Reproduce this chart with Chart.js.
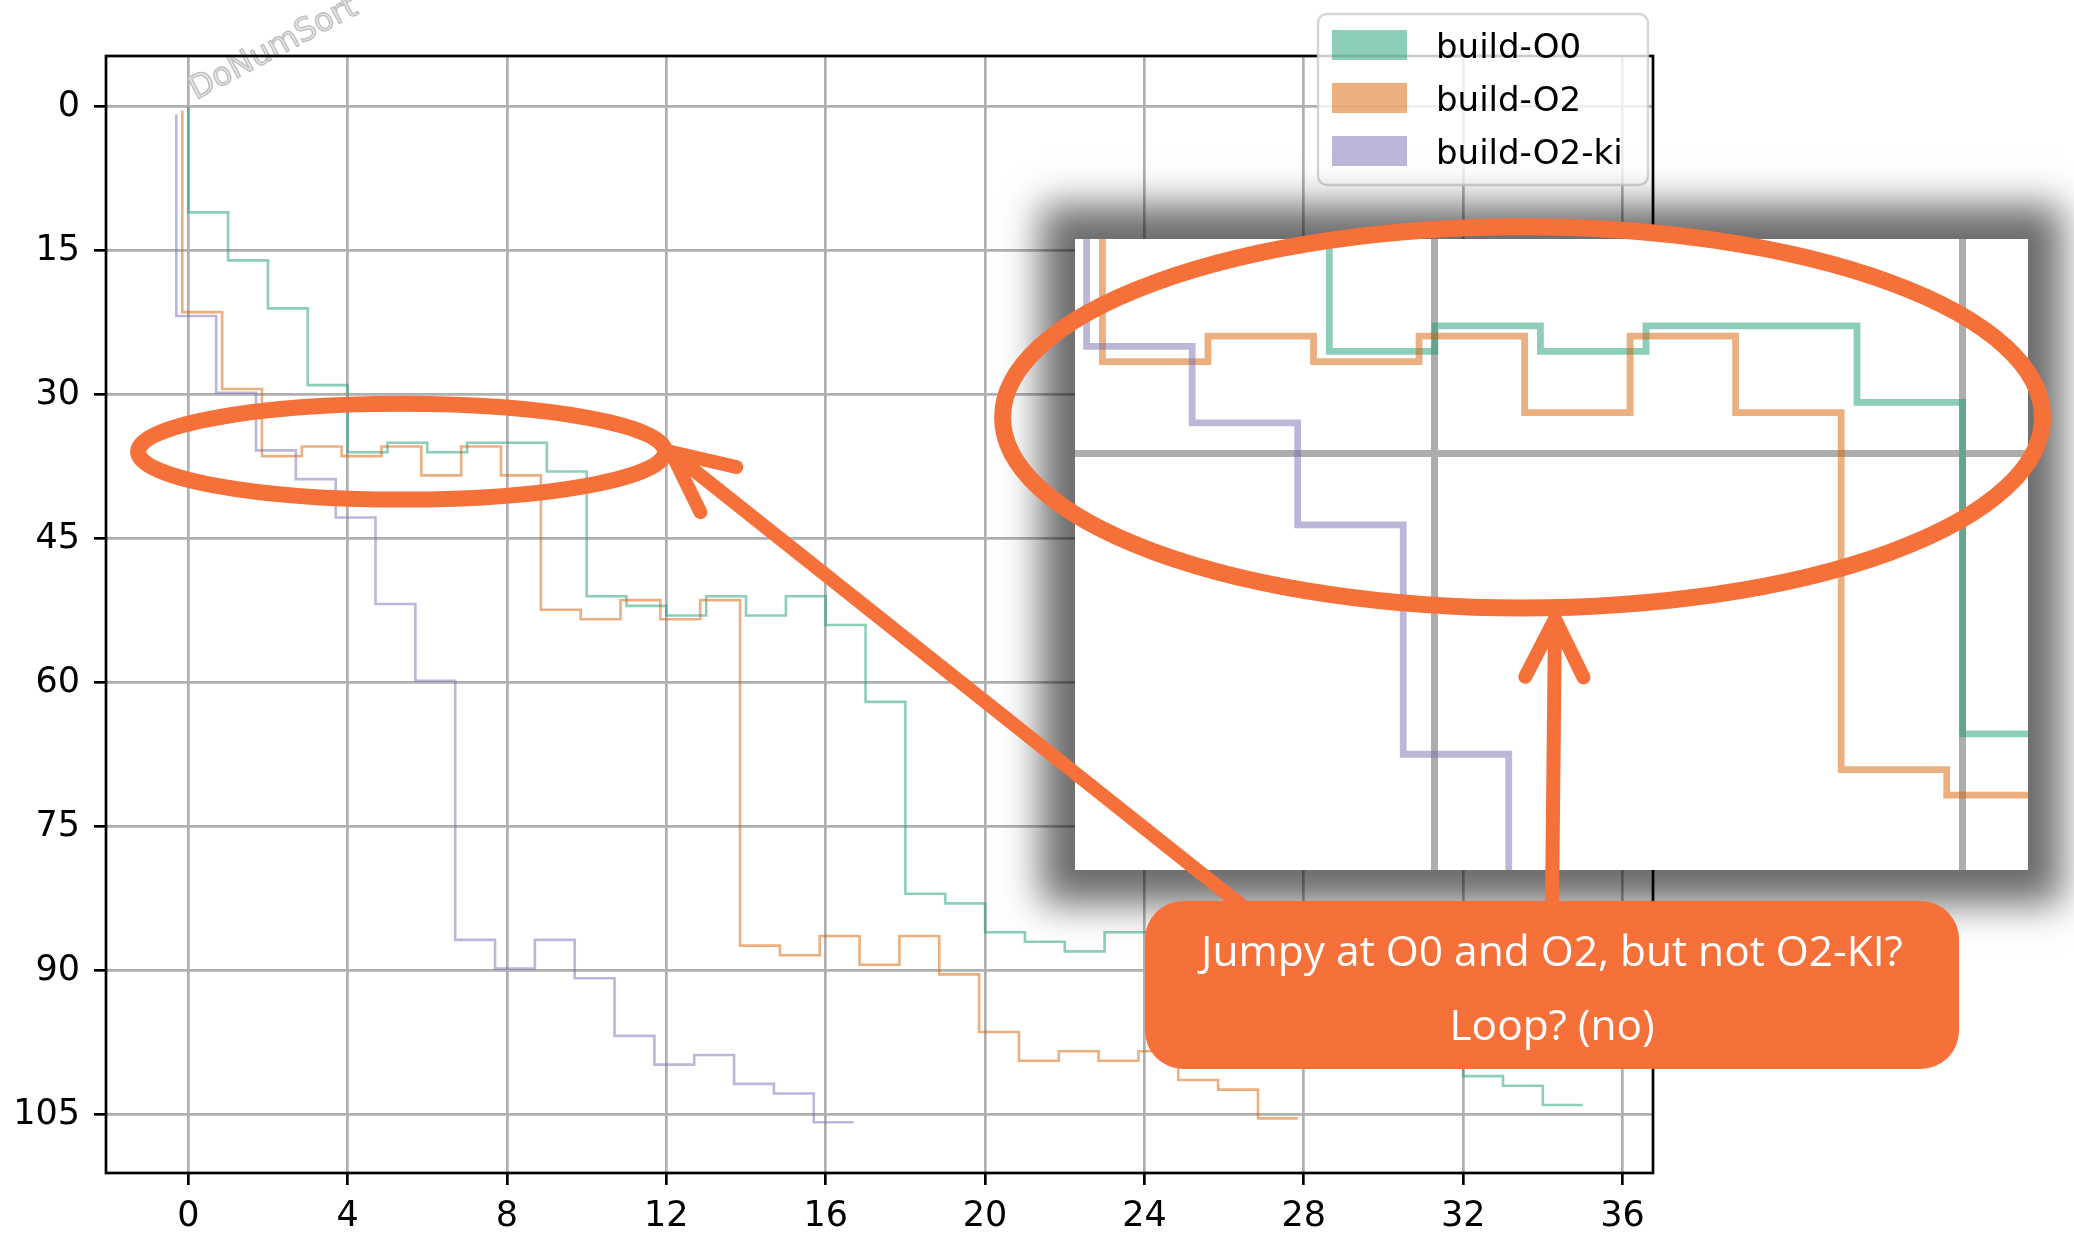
<!DOCTYPE html>
<html><head><meta charset="utf-8">
<script src="https://cdn.jsdelivr.net/npm/chart.js@4.4.1/dist/chart.umd.min.js"></script>
<style>
html,body{margin:0;padding:0;background:#fff;width:2074px;height:1239px;overflow:hidden;}
#main{position:absolute;left:0;top:0;}
#insetBox{position:absolute;left:1075px;top:239px;width:953px;height:631px;background:#fff;box-shadow:0 0 36px 34px rgba(0,0,0,0.58);}
#inset{position:absolute;left:0;top:0;}
#overlay{position:absolute;left:0;top:0;pointer-events:none;}
</style></head>
<body>
<canvas id="main" width="2074" height="1239"></canvas>
<div id="insetBox"><canvas id="inset" width="953" height="631"></canvas></div>
<canvas id="overlay" width="2074" height="1239"></canvas>
<script>
// ---------- data ----------
const seriesNames = ['build-O0', 'build-O2', 'build-O2-ki'];
const xTicks = [0, 4, 8, 12, 16, 20, 24, 28, 32, 36];
const yTicks = [0, 15, 30, 45, 60, 75, 90, 105];
const insetXTicks = [5, 10];
const insetYTicks = [40];

const o0X = [0,1,2,3,4,5,6,7,8,9,10,11,12,13,14,15,16,17,18,19,20,21,22,23,24,25,26,27,28,29,30,31,32,33,34,35];
const o0Y = [0,11,16,21,29,36,35,36,35,35,38,51,52,53,51,53,51,54,62,82,83,86,87,88,86,86,88,89,91,93,95,96,98,101,102,104];

const o2X = [-0.15,0.85,1.85,2.85,3.85,4.85,5.85,6.85,7.85,8.85,9.85,10.85,11.85,12.85,13.85,14.85,15.85,16.85,17.85,18.85,19.85,20.85,21.85,22.85,23.85,24.85,25.85,26.85,27.85];
const o2Y = [0.4,21.4,29.4,36.4,35.4,36.4,35.4,38.4,35.4,38.4,52.4,53.4,51.4,53.4,51.4,87.4,88.4,86.4,89.4,86.4,90.4,96.4,99.4,98.4,99.4,98.4,101.4,102.4,105.4];

const kiX = [-0.3,0.7,1.7,2.7,3.7,4.7,5.7,6.7,7.7,8.7,9.7,10.7,11.7,12.7,13.7,14.7,15.7,16.7];
const kiY = [0.8,21.8,29.8,35.8,38.8,42.8,51.8,59.8,86.8,89.8,86.8,90.8,96.8,99.8,98.8,101.8,102.8,105.8];

const calloutLines = ['Jumpy at O0 and O2, but not O2-KI?', 'Loop? (no)'];
const watermark = 'DoNumSort';

// ---------- styles ----------
const seriesColors = ['rgba(27,158,119,0.5)', 'rgba(217,95,2,0.5)', 'rgba(117,112,179,0.5)'];
const ACC = '#f6703a';
const TICK_FONT = {family: 'DejaVu Sans', size: 35};

function pts(xs, ys) { return xs.map((x, i) => ({x: x, y: ys[i]})); }
function makeDatasets(width) {
  const xs = [o0X, o2X, kiX], ys = [o0Y, o2Y, kiY];
  return seriesNames.map((name, i) => ({
    label: name,
    data: pts(xs[i], ys[i]),
    borderColor: seriesColors[i],
    backgroundColor: seriesColors[i],
    borderWidth: width,
    pointRadius: 0,
    stepped: 'after',
    fill: false,
    tension: 0,
    order: 2 - i
  }));
}

// ---------- main chart ----------
const mainDecor = {
  id: 'mainDecor',
  afterDatasetsDraw(chart) {
    const ctx = chart.ctx, a = chart.chartArea;
    ctx.save();
    // watermark
    ctx.translate(196, 100);
    ctx.rotate(-28 * Math.PI / 180);
    ctx.font = '32px "DejaVu Sans"';
    ctx.fillStyle = '#e6e6e6';
    ctx.fillText(watermark, 0, 0);
    ctx.lineWidth = 1.3;
    ctx.strokeStyle = '#bdbdbd';
    ctx.strokeText(watermark, 0, 0);
    ctx.restore();
    // spines
    ctx.save();
    ctx.strokeStyle = '#000';
    ctx.lineWidth = 2.7;
    ctx.strokeRect(a.left, a.top, a.right - a.left, a.bottom - a.top);
    ctx.restore();
  },
  afterDraw(chart) {
    const ctx = chart.ctx;
    // legend
    const bx = 1318, by = 14, bw = 330, bh = 171;
    ctx.save();
    ctx.beginPath();
    ctx.roundRect(bx, by, bw, bh, 9);
    ctx.fillStyle = 'rgba(255,255,255,0.8)';
    ctx.fill();
    ctx.lineWidth = 2.4;
    ctx.strokeStyle = 'rgba(204,204,204,0.8)';
    ctx.stroke();
    ctx.font = '34px "DejaVu Sans"';
    ctx.textBaseline = 'alphabetic';
    chart.data.datasets.forEach((ds, i) => {
      const cy = 45 + i * 53;
      ctx.fillStyle = ds.borderColor;
      ctx.fillRect(1332, cy - 15, 75, 30);
      ctx.fillStyle = '#000';
      ctx.fillText(ds.label, 1436, cy + 13);
    });
    ctx.restore();
  }
};

new Chart(document.getElementById('main'), {
  type: 'line',
  data: {datasets: makeDatasets(2.6)},
  options: {
    responsive: false, animation: false, devicePixelRatio: 1,
    layout: {padding: {left: 0, top: 56, right: 421, bottom: 0}},
    plugins: {legend: {display: false}, tooltip: {enabled: false}},
    scales: {
      x: {
        type: 'linear', min: -2.065, max: 36.765,
        afterBuildTicks: s => { s.ticks = xTicks.map(v => ({value: v})); },
        afterFit: s => { s.height = 66; },
        grid: {color: '#b0b0b0', lineWidth: 2.7, tickColor: '#000', tickLength: 12, tickWidth: 2.7},
        border: {display: false},
        ticks: {color: '#000', font: TICK_FONT, padding: 11, maxRotation: 0, autoSkip: false, callback: v => String(v)}
      },
      y: {
        type: 'linear', reverse: true, min: -5.29, max: 111.09,
        afterBuildTicks: s => { s.ticks = yTicks.map(v => ({value: v})); },
        afterFit: s => { s.width = 106; },
        grid: {color: '#b0b0b0', lineWidth: 2.7, tickColor: '#000', tickLength: 12, tickWidth: 2.7},
        border: {display: false},
        ticks: {color: '#000', font: TICK_FONT, padding: 14, autoSkip: false, callback: v => String(v)}
      }
    }
  },
  plugins: [mainDecor]
});

// ---------- inset (magnified view of the same data) ----------
new Chart(document.getElementById('inset'), {
  type: 'line',
  data: {datasets: makeDatasets(6.8)},
  options: {
    responsive: false, animation: false, devicePixelRatio: 1,
    layout: {padding: 0},
    plugins: {legend: {display: false}, tooltip: {enabled: false}},
    scales: {
      x: {
        type: 'linear', min: 1.59, max: 10.62,
        afterBuildTicks: s => { s.ticks = insetXTicks.map(v => ({value: v})); },
        afterFit: s => { s.height = 0; },
        grid: {color: '#adadad', lineWidth: 7, drawTicks: false},
        border: {display: false},
        ticks: {display: false}
      },
      y: {
        type: 'linear', reverse: true, min: 31.59, max: 56.34,
        afterBuildTicks: s => { s.ticks = insetYTicks.map(v => ({value: v})); },
        afterFit: s => { s.width = 0; },
        grid: {color: '#adadad', lineWidth: 7, drawTicks: false},
        border: {display: false},
        ticks: {display: false}
      }
    }
  }
});

// ---------- annotations overlay ----------
(function () {
  const c = document.getElementById('overlay');
  const ctx = c.getContext('2d');
  ctx.strokeStyle = ACC;
  ctx.fillStyle = ACC;
  ctx.lineCap = 'round';
  ctx.lineJoin = 'round';

  ctx.lineWidth = 16;
  ctx.beginPath(); ctx.ellipse(401.6, 451.7, 263.5, 47.9, 0, 0, Math.PI * 2); ctx.stroke();
  ctx.lineWidth = 17;
  ctx.beginPath(); ctx.ellipse(1522.6, 417.4, 520, 190.6, 0, 0, Math.PI * 2); ctx.stroke();

  function arrow(x0, y0, x1, y1, w, len, angDeg) {
    ctx.lineWidth = w;
    ctx.beginPath(); ctx.moveTo(x0, y0); ctx.lineTo(x1, y1); ctx.stroke();
    const back = Math.atan2(y0 - y1, x0 - x1);
    const d = angDeg * Math.PI / 180;
    ctx.beginPath();
    ctx.moveTo(x1 + len * Math.cos(back + d), y1 + len * Math.sin(back + d));
    ctx.lineTo(x1, y1);
    ctx.lineTo(x1 + len * Math.cos(back - d), y1 + len * Math.sin(back - d));
    ctx.stroke();
  }
  arrow(1241, 905, 671, 452, 14, 67, 25.5);
  arrow(1552, 905, 1555, 619, 14, 65, 26.6);

  // callout box
  ctx.beginPath();
  ctx.roundRect(1145, 901, 814, 168, 38);
  ctx.fill();

  // callout text, sized to the reference line width
  const fam = '"Open Sans"';
  ctx.font = '40px ' + fam;
  const w1 = ctx.measureText(calloutLines[0]).width;
  const size = 40 * 702 / w1;
  ctx.font = size.toFixed(2) + 'px ' + fam;
  ctx.fillStyle = '#ffffff';
  ctx.textAlign = 'center';
  ctx.textBaseline = 'alphabetic';
  ctx.fillText(calloutLines[0], 1552, 966);
  ctx.fillText(calloutLines[1], 1552, 1040);
})();
</script>
</body></html>
